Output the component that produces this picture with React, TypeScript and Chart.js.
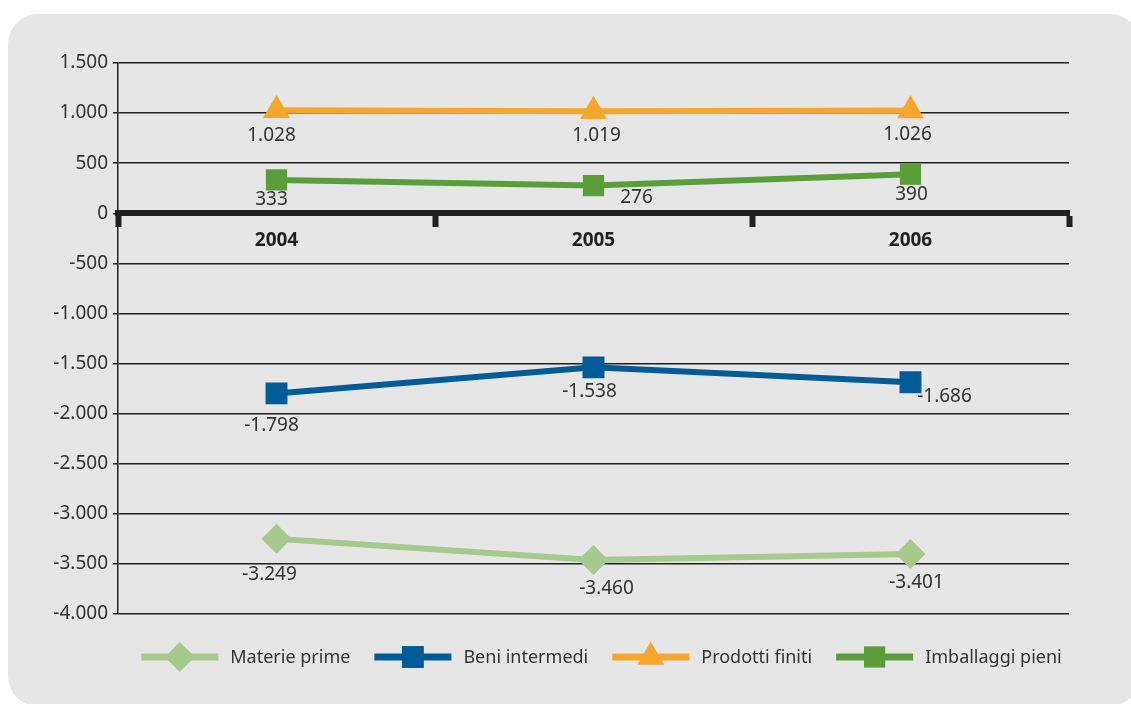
import React, { useEffect, useRef } from "react";
import { Chart, registerables } from "chart.js";
import { drawPoint } from "chart.js/helpers";

Chart.register(...registerables);

const years = ["2004", "2005", "2006"];
const seriesNames = ["Materie prime", "Beni intermedi", "Prodotti finiti", "Imballaggi pieni"];
const materiePrime = [-3249, -3460, -3401];
const beniIntermedi = [-1798, -1538, -1686];
const prodottiFiniti = [1028, 1019, 1026];
const imballaggiPieni = [333, 276, 390];
const yMin = -4000;
const yMax = 1500;
const yStep = 500;

const seriesColors = ["#a6c98c", "#005b96", "#f6a62e", "#5a9e3a"];
const seriesMarkers = ["rectRot", "rect", "triangle", "rect"];
const markerRadius = [15, 15.5, 15.5, 15];
const lineWidths = [6, 6, 6, 6];
// label offsets (text centre relative to the point), per series / per year
const labelOffsets = [
  [[-7, 36], [13, 29], [6, 29]],
  [[-5, 32], [-4, 24], [34, 14]],
  [[-5, 25], [3, 24], [-3, 24]],
  [[-5, 20], [43, 12], [1, 20]],
];

const FONT = '"Noto Sans", sans-serif';
const TEXT = "#333333";
const INK = "#231f20";

const fmt = (v: number) => {
  const s = Math.abs(v).toString().replace(/\B(?=(\d{3})+(?!\d))/g, ".");
  return (v < 0 ? "-" : "") + s;
};

const dataLabelPlugin = {
  id: "dataLabels",
  afterDatasetsDraw(chart: any) {
    const ctx = chart.ctx;
    ctx.save();
    ctx.font = `19px ${FONT}`;
    ctx.fillStyle = TEXT;
    ctx.textAlign = "center";
    ctx.textBaseline = "middle";
    chart.data.datasets.forEach((ds: any, i: number) => {
      const meta = chart.getDatasetMeta(i);
      meta.data.forEach((pt: any, j: number) => {
        const [dx, dy] = labelOffsets[i][j];
        ctx.fillText(fmt(ds.data[j]), pt.x + dx, pt.y + dy);
      });
    });
    ctx.restore();
  },
};

const legendPlugin = {
  id: "customLegend",
  afterDraw(chart: any) {
    const ctx = chart.ctx;
    const area = chart.chartArea;
    ctx.save();
    ctx.font = `18px ${FONT}`;
    const lineLen = 77;
    const gapText = 12;
    const gapItem = 24;
    const dss = chart.data.datasets;
    const widths = dss.map((ds: any) => ctx.measureText(ds.label).width);
    const total =
      widths.reduce((a: number, w: number) => a + lineLen + gapText + w, 0) + gapItem * (widths.length - 1);
    let x = (area.left + area.right) / 2 + 8 - total / 2;
    const y = area.bottom + 43;
    dss.forEach((ds: any, i: number) => {
      ctx.strokeStyle = ds.borderColor;
      ctx.lineWidth = 7;
      ctx.lineCap = "butt";
      ctx.beginPath();
      ctx.moveTo(x, y);
      ctx.lineTo(x + lineLen, y);
      ctx.stroke();
      ctx.fillStyle = ds.pointBackgroundColor;
      drawPoint(ctx, { pointStyle: ds.pointStyle, radius: ds.pointRadius, rotation: 0, borderWidth: 0 } as any, x + lineLen / 2, y);
      ctx.fillStyle = TEXT;
      ctx.textAlign = "left";
      ctx.textBaseline = "middle";
      ctx.fillText(ds.label, x + lineLen + gapText, y + 1);
      x += lineLen + gapText + widths[i] + gapItem;
    });
    ctx.restore();
  },
};

export default function App() {
  const canvasRef = useRef<HTMLCanvasElement | null>(null);

  useEffect(() => {
    if (!canvasRef.current) return;
    const values = [materiePrime, beniIntermedi, prodottiFiniti, imballaggiPieni];
    const chart = new Chart(canvasRef.current, {
      type: "line",
      data: {
        labels: years,
        datasets: values.map((d, i) => ({
          label: seriesNames[i],
          data: d,
          borderColor: seriesColors[i],
          backgroundColor: seriesColors[i],
          pointBackgroundColor: seriesColors[i],
          pointBorderWidth: 0,
          pointStyle: seriesMarkers[i] as any,
          pointRadius: markerRadius[i],
          borderWidth: lineWidths[i],
          tension: 0,
          fill: false,
        })),
      },
      options: {
        animation: false,
        responsive: false,
        layout: { padding: { left: 0, top: 63, right: 62, bottom: 90 } },
        plugins: { legend: { display: false }, tooltip: { enabled: false } },
        scales: {
          x: {
            type: "category",
            offset: true,
            position: { y: 0 } as any,
            border: { display: true, color: INK, width: 6 },
            grid: {
              display: true,
              drawOnChartArea: false,
              drawTicks: true,
              tickLength: 11,
              tickWidth: 6,
              tickColor: INK,
              offset: true,
            },
            ticks: { color: INK, font: { family: FONT, size: 19, weight: "bold" }, padding: 5 },
          },
          y: {
            min: yMin,
            max: yMax,
            border: { display: true, color: INK, width: 1.5 },
            grid: { color: INK, lineWidth: 1.5, tickLength: 5, tickColor: INK },
            ticks: {
              stepSize: yStep,
              color: TEXT,
              padding: 5,
              font: { family: FONT, size: 19 },
              callback: (v: any) => fmt(Number(v)),
            },
            afterFit: (scale: any) => {
              scale.width = 118;
            },
          },
        },
      },
      plugins: [dataLabelPlugin, legendPlugin],
    });
    return () => chart.destroy();
  }, []);

  return (
    <div style={{ position: "absolute", left: 0, top: 0, width: 1131, height: 704, overflow: "hidden", background: "#ffffff" }}>
      <div
        style={{
          position: "absolute",
          left: 8,
          top: 14,
          width: 1132,
          height: 692,
          background: "#e6e6e6",
          borderRadius: 30,
        }}
      />
      <canvas ref={canvasRef} width={1131} height={704} style={{ position: "absolute", left: 0, top: 0, width: 1131, height: 704 }} />
    </div>
  );
}
